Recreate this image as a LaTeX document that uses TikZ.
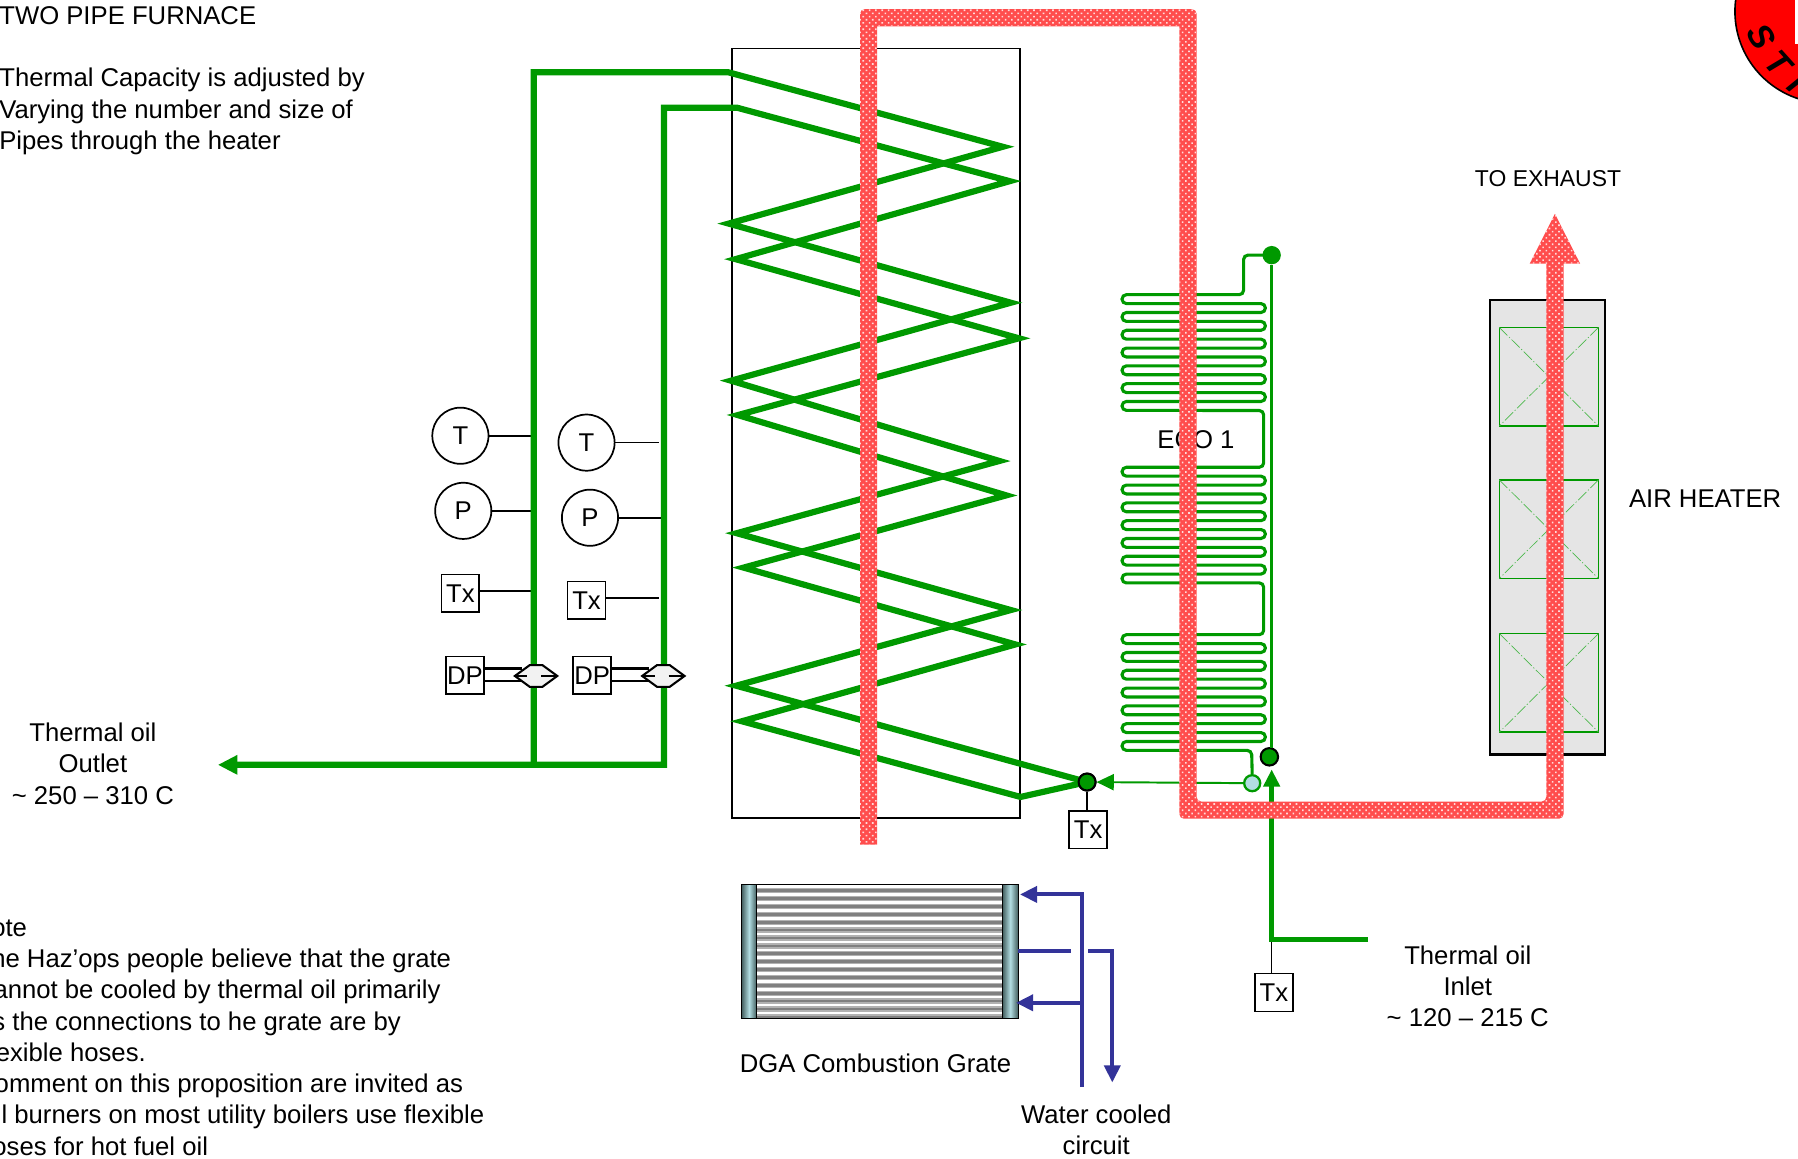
\documentclass[tikz,border=0pt]{standalone}
\usepackage{fontspec}
\setmainfont{Liberation Sans}
\usetikzlibrary{arrows.meta,patterns.meta}
\definecolor{pipegreen}{HTML}{009900}
\definecolor{fluered}{HTML}{FF4D4D}
\definecolor{waterblue}{HTML}{333399}
\definecolor{headerblue}{HTML}{B2DDE2}
\definecolor{headerdark}{HTML}{3F5A5A}
\tikzset{
  lbl/.style={inner sep=0pt,align=center,font=\fontsize{11.2}{13.65}\selectfont},
  lblleft/.style={lbl,align=left,anchor=north west},
  logoletter/.style={font=\fontsize{15}{17}\selectfont\bfseries\itshape,inner sep=0pt},
  instr/.style={circle,draw,line width=.75pt,minimum size=24.5pt,inner sep=0pt,fill=white,font=\fontsize{11.2}{13.65}\selectfont},
  txbox/.style={rectangle,draw,line width=.75pt,minimum size=16.5pt,inner sep=0pt,fill=white,font=\fontsize{11.2}{13.65}\selectfont},
  dpvalve/.style={draw,line width=.9pt,fill=white!95!black},
  pipe/.style={pipegreen,line width=2.7pt,miter limit=10},
  coil/.style={pipegreen,line width=1.35pt,rounded corners=1.9pt},
  thin pipe/.style={pipegreen,line width=.85pt},
  dot/.style={circle,inner sep=0pt,fill=pipegreen},
  blackdot/.style={circle,draw=black,line width=.9pt,fill=pipegreen,inner sep=0pt},
  water/.style={waterblue,line width=1.75pt},
  tipbig/.style={-{Triangle[length=7.5pt,width=7pt]}},
  cell/.style={draw=pipegreen,line width=.6pt},
  celldiag/.style={pipegreen!70,line width=.3pt,dash pattern=on 5pt off 1pt on .5pt off 1pt}
}
% one bank of the economiser, 14 rows
\newcommand{\ecobank}[1]{
  \foreach \row [evaluate=\row as \ya using #1+7.76*\row,
                 evaluate=\row as \yb using #1+7.76*(\row+1),
                 evaluate=\row as \xe using 978.5+125*isodd(\row)] in {0,...,12}
    { -- (\xe,\ya) -- (\xe,\yb) }
}
\begin{document}
\begin{tikzpicture}[x=.5pt,y=-.5pt]
  \useasboundingbox (0,0) rectangle (1568,1010);

  % furnace
  \node[draw,line width=.6pt,minimum width=125.5pt,minimum height=335.5pt,inner sep=0pt] (furnace) at (764,378) {};

  % logo corner
  \fill[red,draw=black,line width=.7pt] (1593,10) circle (80);
  \fill[white] (1565.5,0) rectangle (1568,38.6);
  \node[logoletter,rotate=-60] (logoa) at (1536,32) {S};
  \node[logoletter,rotate=-48] (logob) at (1551,55) {T};
  \node[logoletter,rotate=-40] (logoc) at (1567,72) {I};

  % texts
  \node[lblleft] (title) at (-1,5.5) {TWO PIPE FURNACE};
  \node[lblleft] (capacity) at (-1,59) {Thermal Capacity is adjusted by\\Varying the number and size of\\Pipes through the heater};
  \node[lblleft] (note) at (0,801.5) {\hspace*{-4pt}ote\\\hspace*{-4pt}he Haz’ops people believe that the grate\\\hspace*{-3pt}annot be cooled by thermal oil primarily\\\hspace*{-3.5pt}s the connections to he grate are by\\\hspace*{-2pt}exible hoses.\\\hspace*{-2.5pt}omment on this proposition are invited as\\\hspace*{.5pt}l burners on most utility boilers use flexible\\\hspace*{-3.5pt}oses for hot fuel oil};
  \node[lbl] (outlet) at (81,666) {Thermal oil\\Outlet\\\textasciitilde{} 250 – 310 C};
  \node[lbl] (inlet) at (1280,860) {Thermal oil\\Inlet\\\textasciitilde{} 120 – 215 C};
  \node[lbl] (grate) at (763.5,927) {DGA Combustion Grate};
  \node[lbl] (watertext) at (956,985.5) {Water cooled\\circuit};
  \node[lbl,font=\fontsize{10}{12}\selectfont] (exhaust) at (1350,155.5) {TO EXHAUST};
  \node[lbl] (airheater) at (1487,435) {AIR HEATER};
  \node[lbl] (eco) at (1043,383) {ECO 1};

  % instruments
  \coordinate (pipea) at (465.5,667);
  \coordinate (pipeb) at (579,667);
  \coordinate (outleft) at (190,667);
  \node[instr] (ta) at (401.5,380) {T};
  \node[instr] (pa) at (404,445.5) {P};
  \node[txbox] (txa) at (401.5,517.5) {Tx};
  \node[txbox] (dpa) at (405.5,589) {DP};
  \node[instr] (tb) at (511.5,386) {T};
  \node[instr] (pb) at (514.5,451.5) {P};
  \node[txbox] (txb) at (511.5,523.5) {Tx};
  \node[txbox] (dpb) at (516.5,589) {DP};
  \draw[line width=.95pt] (ta) -- (465,380);
  \draw[line width=.95pt] (pa) -- (467,445.5);
  \draw[line width=.6pt] (txa.east |- 0,515.5) -- (465,515.5);
  \draw[line width=.6pt] (tb) -- (575,386);
  \draw[line width=.95pt] (pb) -- (577,451.5);
  \draw[line width=.95pt] (txb.east |- 0,521.5) -- (575,521.5);

  % oil pipes and coil
  \node[blackdot,minimum size=7.4pt] (mix) at (948,682) {};
  \draw[pipe] (pipea) -- (465.5,63) -- (635,63) -- (874.5,128) -- (635.5,195) -- (881.5,264) -- (637.5,332) -- (871.5,402) -- (642.5,465) -- (881.5,532) -- (642,598) -- (mix.center);
  \draw[pipe,{Triangle[length=8.5pt,width=8pt]}-] (outleft) -- (pipeb) -- (579,94) -- (643,94) -- (880.5,158) -- (641.5,226) -- (888.5,295) -- (643.5,362) -- (877.5,432) -- (648.5,495) -- (885.5,562) -- (647,629) -- (890,695) -- (mix.center);
  \node[blackdot,minimum size=7.4pt] at (mix) {};

  \node[txbox] (txc) at (949,723.5) {Tx};
  \draw[line width=.9pt] (mix) -- (mix |- txc.north);

  % dp cells
  \foreach \nm/\xo in {dpa/0,dpb/111}{
    \draw[line width=1pt] (\nm.east |- 0,583) -- (455+\xo,583);
    \draw[line width=1pt] (\nm.east |- 0,594) -- (455+\xo,594);
    \filldraw[dpvalve] (449+\xo,589.5) -- (462+\xo,580) -- (473+\xo,580) -- (486+\xo,589.5) -- (473+\xo,599) -- (462+\xo,599) -- cycle;
    \draw[line width=1pt] (449+\xo,589.5) -- (460+\xo,589.5) (472+\xo,589.5) -- (486+\xo,589.5);
  }

  % economiser
  \node[dot,minimum size=8pt] (ecotop) at (1109,222.5) {};
  \node[blackdot,minimum size=7.6pt] (ecolow) at (1107,660) {};
  \node[circle,draw=pipegreen,line width=1pt,fill=headerblue,minimum size=7pt,inner sep=0pt] (ecoout) at (1092,683) {};
  \draw[pipegreen,line width=1.1pt] (ecotop) -- (1109,652);
  \draw[coil] (ecotop.center) -- (1084.5,222.5) -- (1084.5,257) \ecobank{257} -- (1102,358) -- (1102,407.5) \ecobank{407.5} -- (1102,508.3) -- (1102,553.5) \ecobank{553.5} -- (1091.5,654.4) -- (ecoout.north);
  \draw[thin pipe,tipbig] (ecoout) -- (mix);

  % inlet
  \coordinate (inend) at (1193,819.5);
  \coordinate (incorner) at (1109,819.5);
  \node[txbox] (txd) at (1111,865.5) {Tx};
  \draw[line width=.6pt] (incorner) -- (incorner |- txd.north);
  \draw[pipegreen,line width=2pt,tipbig] (inend) -- (incorner) -- (1109,671);

  % air heater
  \node[draw,line width=.9pt,fill=black!10,minimum width=50pt,minimum height=198pt,inner sep=0pt] (heater) at (1349.5,460) {};
  \foreach \cy in {328.5,461.5,595.5}{
    \draw[cell] (1307.5,\cy-43) rectangle (1394,\cy+43);
    \draw[celldiag] (1307.5,\cy-43) -- (1394,\cy+43) (1394,\cy-43) -- (1307.5,\cy+43);
  }

  % grate
  \fill[black!50] (660,771) rectangle (874,888);
  \foreach \i in {0,...,16}{
    \fill[black!30] (660,771+\i*6.88) rectangle (874,775.6+\i*6.88);
    \fill[white] (660,772.2+\i*6.88) rectangle (874,774.4+\i*6.88);
  }
  \draw[line width=.4pt] (660,771) rectangle (874,888);
  \draw[line width=.4pt,left color=headerdark,right color=headerdark,middle color=headerblue] (646.5,771) rectangle (660,888);
  \draw[line width=.4pt,left color=headerdark,right color=headerdark,middle color=headerblue] (874,771) rectangle (888,888);

  % water circuit
  \coordinate (wbot) at (943.5,948);
  \draw[water,tipbig] (wbot) -- (943.5,780) -- (889.5,780);
  \draw[water,tipbig] (943.5,874.5) -- (886,874.5);
  \draw[water] (888,829) -- (934,829);
  \draw[water,tipbig] (949,829) -- (970,829) -- (970,944);

  % flue gas
  \path[fill=fluered,postaction={pattern={Dots[radius=.5pt,distance=1.95pt,angle=45]},pattern color=white!80!fluered}]
    (750,736.5) [rounded corners=2pt] -- (750,8) -- (1043.5,8) -- (1043.5,699) -- (1348.5,699) [sharp corners] -- (1348.5,230) -- (1334,230) -- (1356,186.5) -- (1378,230) -- (1363.5,230) [rounded corners=2pt] -- (1363.5,714) -- (1028.5,714) [sharp corners] -- (1028.5,23) -- (765,23) -- (765,736.5) -- cycle;
\end{tikzpicture}
\end{document}
